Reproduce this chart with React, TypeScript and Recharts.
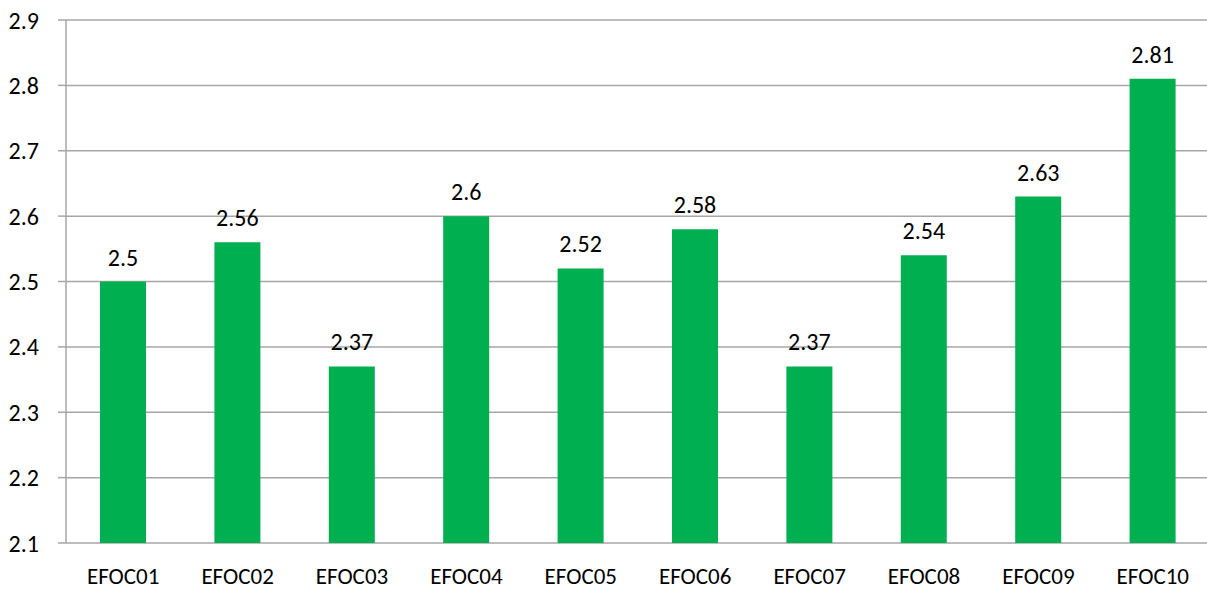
import React from "react";
import { BarChart, Bar, XAxis, YAxis, CartesianGrid, LabelList } from "recharts";

const categories = ["EFOC01", "EFOC02", "EFOC03", "EFOC04", "EFOC05", "EFOC06", "EFOC07", "EFOC08", "EFOC09", "EFOC10"];
const scores = [2.5, 2.56, 2.37, 2.6, 2.52, 2.58, 2.37, 2.54, 2.63, 2.81];
const yTicks = [2.1, 2.2, 2.3, 2.4, 2.5, 2.6, 2.7, 2.8, 2.9];
const bandTicks = [0, 1, 2, 3, 4, 5, 6, 7, 8, 9, 10];

const data = categories.map((name, i) => ({ name, value: scores[i] }));

const font = "Calibri, Carlito, 'Liberation Sans', Arial, sans-serif";
const gray = "#a6a6a6";

export default function App() {
  return (
    <div style={{ position: "absolute", left: 0, top: 0, fontFamily: font, width: 1207, height: 590, overflow: "hidden" }}>
      <BarChart
        width={1210}
        height={590}
        data={data}
        margin={{ top: 20, right: 0, left: 0, bottom: 0 }}
      >
        <CartesianGrid vertical={false} stroke={gray} strokeWidth={1.5} />
        {/* tick marks between categories */}
        <XAxis
          xAxisId="band"
          type="number"
          domain={[0, 10]}
          ticks={bandTicks}
          height={0}
          tick={false}
          tickSize={8}
          stroke={gray}
          strokeWidth={1.5}
        />
        <XAxis
          dataKey="name"
          height={47}
          axisLine={false}
          tickLine={false}
          tickSize={0}
          tickMargin={25}
          interval={0}
          tick={{ fill: "#000", fontSize: 23, fontFamily: font }}
        />
        <YAxis
          type="number"
          domain={[2.1, 2.9]}
          ticks={yTicks}
          width={66}
          tickSize={8}
          tickMargin={19}
          stroke={gray}
          strokeWidth={1.5}
          tick={{ fill: "#000", fontSize: 24, fontFamily: font }}
        />
        <Bar dataKey="value" fill="#00b050" barSize={46} isAnimationActive={false}>
          <LabelList
            dataKey="value"
            position="top"
            offset={16}
            fill="#000"
            fontSize={24}
            fontFamily={font}
          />
        </Bar>
      </BarChart>
    </div>
  );
}
